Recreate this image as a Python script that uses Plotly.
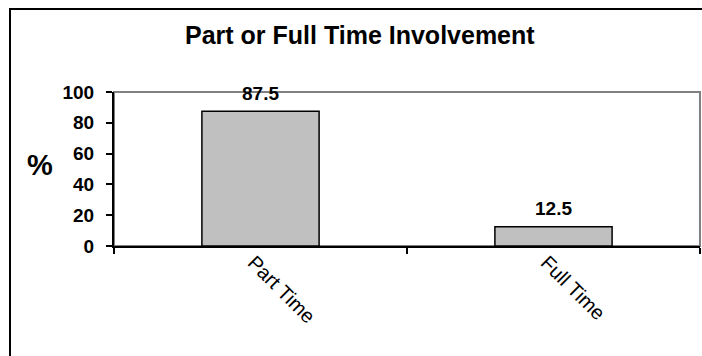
import plotly.graph_objects as go

# Data
categories = ["Part Time", "Full Time"]
percentages = [87.5, 12.5]
value_labels = ["87.5", "12.5"]
y_ticks = [0, 20, 40, 60, 80, 100]

FONT = "Arial, Liberation Sans, sans-serif"

W, H = 702, 356
ML, MR, MT, MB = 114, 2, 92, 110
PW = W - ML - MR
PH = H - MT - MB


def px_x(p):
    return (p - ML) / PW


def px_y(p):
    return (H - MB - p) / PH


fig = go.Figure()
fig.add_trace(go.Bar(
    x=categories,
    y=percentages,
    width=0.4,
    marker=dict(color="#C0C0C0", line=dict(color="black", width=1.5)),
    hoverinfo="skip",
))

# value labels above the bars
for cat, val, lab in zip(categories, percentages, value_labels):
    fig.add_annotation(
        x=cat, y=val, text=lab, showarrow=False,
        yanchor="middle", yshift=18,
        font=dict(family=FONT, size=19, color="black", weight="bold"),
    )

# chart title
fig.add_annotation(
    xref="paper", yref="paper", x=px_x(360), y=px_y(35),
    text="Part or Full Time Involvement", showarrow=False,
    xanchor="center", yanchor="middle",
    font=dict(family=FONT, size=25, color="black", weight="bold"),
)

# y-axis title
fig.add_annotation(
    xref="paper", yref="paper", x=px_x(40), y=px_y(165),
    text="%", showarrow=False, xanchor="center", yanchor="middle",
    font=dict(family=FONT, size=29, color="black", weight="bold"),
)

# plot-area outline (grey) and outer chart frame (black)
fig.add_shape(type="rect", xref="paper", yref="paper",
              x0=0, y0=0, x1=1, y1=1,
              line=dict(color="#808080", width=2), layer="below")
fig.add_shape(type="rect", xref="paper", yref="paper",
              x0=px_x(10), y0=px_y(380), x1=px_x(720), y1=px_y(9),
              line=dict(color="black", width=2), layer="above")

fig.update_xaxes(
    type="category", range=[-0.5, 1.5],
    showline=True, linecolor="black", linewidth=2,
    ticks="outside", tickson="boundaries", ticklen=6, tickwidth=2,
    tickcolor="black", tickangle=45, showgrid=False, zeroline=False,
    ticklabelshift=-7, ticklabelstandoff=-5,
    tickfont=dict(family=FONT, size=20, color="black"),
)
fig.update_yaxes(
    range=[0, 100], tickvals=y_ticks,
    showline=True, linecolor="black", linewidth=2,
    ticks="outside", ticklen=6, tickwidth=2, tickcolor="black",
    ticklabelstandoff=8, showgrid=False, zeroline=False,
    tickfont=dict(family=FONT, size=19, color="black", weight="bold"),
)

fig.update_layout(
    width=W, height=H,
    margin=dict(l=ML, r=MR, t=MT, b=MB, autoexpand=False),
    paper_bgcolor="white", plot_bgcolor="white",
    showlegend=False, bargap=0.6,
)

fig.write_html("out.html")
